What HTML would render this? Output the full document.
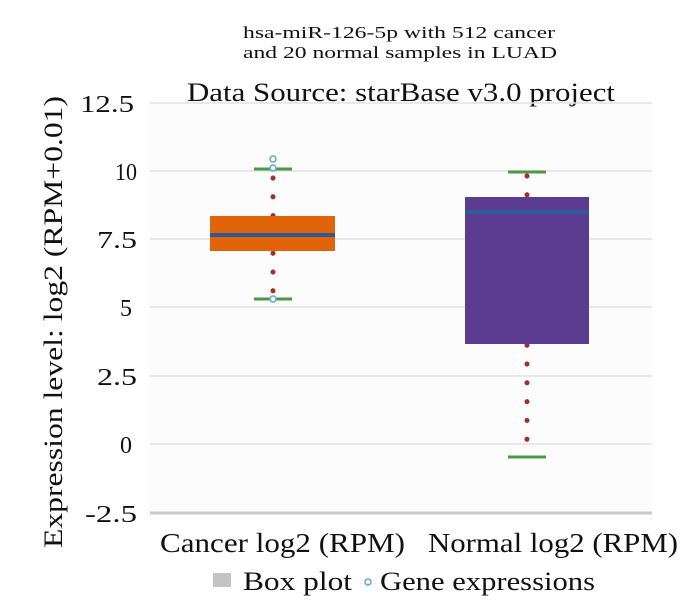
<!DOCTYPE html>
<html><head><style>
body{margin:0;background:#fff;}
svg text{font-family:"Liberation Serif",serif;fill:#111;}
</style></head><body>
<svg width="700" height="609" viewBox="0 0 700 609">
<rect width="700" height="609" fill="#fff"/>
<rect x="150" y="101" width="502" height="412" fill="#fcfcfc"/>
<text x="243" y="38" font-size="17" textLength="312" lengthAdjust="spacingAndGlyphs">hsa-miR-126-5p with 512 cancer</text>
<text x="243" y="58" font-size="17" textLength="314" lengthAdjust="spacingAndGlyphs">and 20 normal samples in LUAD</text>
<text x="187" y="101" font-size="26" textLength="428" lengthAdjust="spacingAndGlyphs">Data Source: starBase v3.0 project</text>
<g stroke="#e2e2e2" stroke-width="1.5">
<line x1="150" x2="652" y1="103" y2="103"/>
<line x1="150" x2="652" y1="171" y2="171"/>
<line x1="150" x2="652" y1="239" y2="239"/>
<line x1="150" x2="652" y1="307" y2="307"/>
<line x1="150" x2="652" y1="376" y2="376"/>
<line x1="150" x2="652" y1="444" y2="444"/>
</g>
<line x1="150" x2="652" y1="513" y2="513" stroke="#c8c8c8" stroke-width="3"/>
<g font-size="24" text-anchor="end">
<text x="134" y="112" textLength="54" lengthAdjust="spacingAndGlyphs">12.5</text>
<text x="137" y="180" textLength="22" lengthAdjust="spacingAndGlyphs">10</text>
<text x="137" y="248" textLength="40" lengthAdjust="spacingAndGlyphs">7.5</text>
<text x="132" y="316">5</text>
<text x="137" y="385" textLength="40" lengthAdjust="spacingAndGlyphs">2.5</text>
<text x="132" y="453">0</text>
<text x="137" y="522" textLength="52" lengthAdjust="spacingAndGlyphs">-2.5</text>
</g>
<text transform="translate(62,548) rotate(-90)" font-size="26" textLength="452" lengthAdjust="spacingAndGlyphs">Expression level: log2 (RPM+0.01)</text>
<line x1="273" x2="273" y1="178" y2="299" stroke="#a0302a" stroke-width="5" stroke-dasharray="0.1,18.7" stroke-linecap="round"/>
<rect x="210" y="216" width="125" height="35" fill="#e2640a"/>
<line x1="210" x2="335" y1="235" y2="235" stroke="#2e5a98" stroke-width="4"/>
<line x1="254" x2="292" y1="169" y2="169" stroke="#4a9a44" stroke-width="3"/>
<line x1="254" x2="292" y1="299" y2="299" stroke="#4a9a44" stroke-width="3"/>
<g fill="#fff" stroke="#5aaac8" stroke-width="1.5">
<circle cx="273" cy="159" r="3"/><circle cx="273" cy="168" r="3"/><circle cx="273" cy="299" r="3"/>
</g>
<line x1="527" x2="527" y1="176" y2="440" stroke="#a0302a" stroke-width="5" stroke-dasharray="0.1,18.7" stroke-linecap="round"/>
<rect x="465" y="197" width="124" height="147" fill="#5b3c90"/>
<line x1="465" x2="589" y1="212" y2="212" stroke="#2e5a98" stroke-width="4"/>
<line x1="508" x2="546" y1="172" y2="172" stroke="#4a9a44" stroke-width="3"/>
<line x1="508" x2="546" y1="457" y2="457" stroke="#4a9a44" stroke-width="3"/>
<g font-size="27">
<text x="160" y="552" textLength="245" lengthAdjust="spacingAndGlyphs">Cancer log2 (RPM)</text>
<text x="428" y="552" textLength="250" lengthAdjust="spacingAndGlyphs">Normal log2 (RPM)</text>
</g>
<rect x="213" y="573" width="18" height="14" fill="#c4c4c4"/>
<text x="243" y="590" font-size="26" textLength="109" lengthAdjust="spacingAndGlyphs">Box plot</text>
<circle cx="368" cy="582" r="3" fill="#fff" stroke="#5aaac8" stroke-width="1.5"/>
<text x="380" y="590" font-size="26" textLength="215" lengthAdjust="spacingAndGlyphs">Gene expressions</text>
</svg>
</body></html>
